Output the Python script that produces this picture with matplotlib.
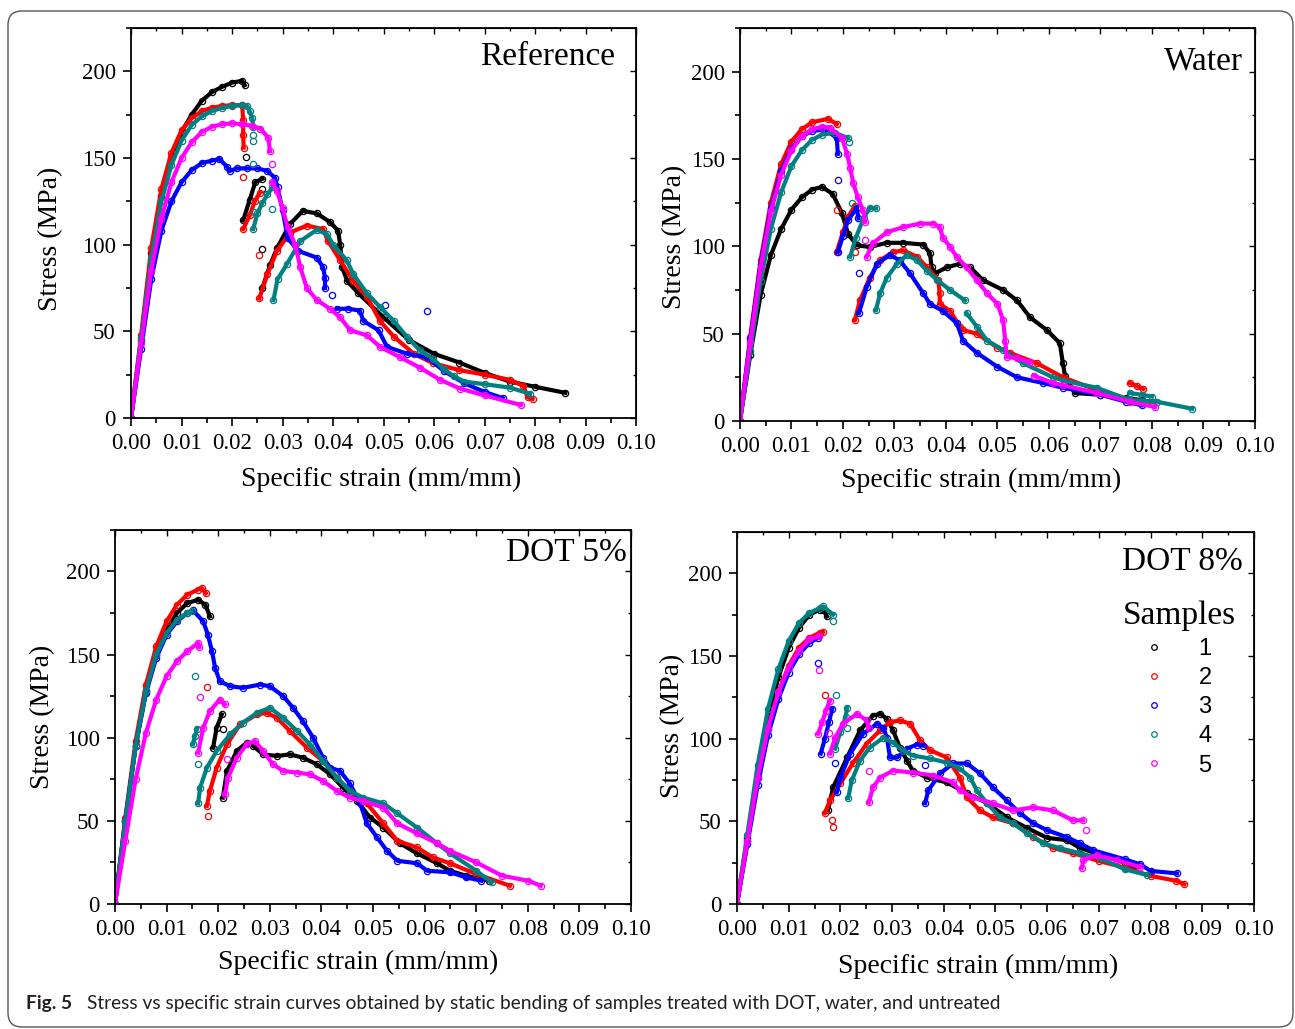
"""
Stress vs specific strain curves, static bending, four treatments.
"""
import matplotlib
matplotlib.use('Agg')
import matplotlib.pyplot as plt
from matplotlib.ticker import MultipleLocator, FormatStrFormatter
from matplotlib.patches import FancyBboxPatch
from matplotlib.lines import Line2D
from matplotlib.transforms import IdentityTransform

# each sample = list of (strain, stress) segments
ref_1 = [
    ([0, .002, .004, .006, .008, .010, .012, .014, .016, .018, .020, .022, .0225],
     [0, 45, 95, 128, 150, 165, 175, 183, 188, 191, 193.5, 194.5, 192]),
    ([.0228], [150.5]), ([.026], [132]), ([.026], [97.7]),
    ([.0222, .0235, .0246, .026], [114, 126, 136, 138]),
    ([.026, .0275, .0289, .0315, .034, .0368, .0394, .041, .0414, .0418, .0428, .045, .050,
      .055, .060, .065, .070, .075, .080, .086],
     [75, 88, 98, 112, 119.5, 118, 113, 108, 100, 87, 79, 72, 58, 45, 37, 32, 26, 21, 18, 14.5]),
]
ref_2 = [
    ([0, .002, .004, .006, .008, .010, .012, .014, .016, .018, .020, .022, .0222, .0222, .0223],
     [0, 48, 98, 132, 153, 166, 173, 177, 179, 180, 180.5, 180.5, 172, 163, 156]),
    ([.0222], [139]), ([.0254], [94]),
    ([.0222, .0235, .0245, .0255], [109, 117, 125, 130]),
    ([.0254, .027, .0289, .0315, .0348, .038, .039, .0414, .044, .0467, .0493, .052, .056,
      .0598, .065, .070, .075, .0777, .0785, .0795],
     [69, 83, 96.5, 107, 111, 109, 102, 91, 79, 70, 56, 47, 37, 31.6, 27.6, 25, 22, 18.5, 12, 11]),
]
ref_3 = [
    ([0, .002, .004, .006, .008, .010, .012, .014, .016, .0175, .019, .0195, .021, .023, .025,
      .027, .0285, .029, .030, .031, .033, .0368, .038, .0384, .0384],
     [0, 40, 80, 108, 125, 136, 143, 147, 148.5, 149.4, 145, 142.5, 144, 144, 144, 142.5, 138.5,
      133, 120, 104, 96.5, 92.5, 87, 81, 75]),
    ([.0398], [71]), ([.0503], [65]), ([.0586], [62]),
    ([.0408, .043, .0453, .046, .049, .0507, .0547, .0586, .062, .066, .070, .0736],
     [63, 63, 62, 56, 50.6, 41, 37, 35, 27, 20, 15, 11.5]),
]
ref_4 = [
    ([0, .002, .004, .006, .008, .010, .012, .014, .016, .018, .020, .022, .023, .0235, .024, .0242],
     [0, 46, 92, 125, 146, 160, 169, 174, 177, 179, 180, 180.5, 180, 177, 173, 168]),
    ([.0242], [163]), ([.0242], [160]), ([.0242], [146.6]), ([.0244], [119]), ([.028], [120.6]),
    ([.0242, .025, .026, .027, .028], [109, 118, 124, 129, 133]),
    ([.0282, .029, .0309, .0335, .0368, .0388, .040, .0427, .044, .0467, .0493, .052, .0547,
      .0572, .0598, .062, .064, .066, .070, .075, .079],
     [68, 80, 89, 102, 108.6, 106, 100, 91, 83, 72, 64, 56, 46.6, 39, 34, 28, 24, 21, 19.5, 17.5, 14]),
]
ref_5 = [
    ([0, .002, .004, .006, .008, .010, .012, .014, .016, .018, .020, .022, .024, .0256, .0272, .0275],
     [0, 43, 85, 115, 136, 150, 159, 165, 168, 169.5, 170, 169.5, 168.5, 167, 161.5, 154]),
    ([.0279], [146.6]),
    ([.0279, .0289, .030, .031, .0325, .0335, .0348, .0368, .0394, .0414, .0434, .0467, .0493,
      .0533, .0572, .0612, .0651, .070, .0772],
     [136, 131, 121, 110, 100, 87, 75, 68, 63, 58, 50.6, 47.7, 41, 35, 29, 22, 17, 13, 7.5]),
]

water_1 = [
    ([0, .002, .004, .006, .008, .010, .012, .014, .0159, .018, .0198, .021, .0227, .0252, .0285,
      .0317, .0356, .0369, .0372, .0379, .0402, .0427, .0447, .0472, .0511, .0538, .0563, .0596,
      .0621, .0627, .0631, .065, .070, .075, .078],
     [0, 38, 72, 95, 110, 121, 128, 132.5, 134, 130, 119, 107, 100.6, 99.6, 102, 102, 101, 96, 88,
      84.6, 88, 90, 88, 80.6, 75, 69, 59.4, 52, 44.6, 33, 26, 16, 15, 13, 12]),
]
water_2 = [
    ([0, .002, .004, .006, .008, .010, .012, .014, .0171, .0188],
     [0, 48, 92, 125, 147, 160, 167, 171, 173, 170]),
    ([.0188], [120.6]), ([.0223], [96.6]),
    ([.0188, .020, .021, .0223], [97, 108, 117, 123]),
    ([.0223, .0233, .0252, .0272, .0297, .0317, .0344, .0363, .0385, .0388, .0388, .0408, .0427,
      .0433, .046, .050, .0524, .0577, .0627, .0693, .0757, .080],
     [57.7, 69, 82, 92, 96.6, 97.7, 94, 88, 80.6, 73, 67, 63, 54, 52, 50, 42, 39, 33, 25, 17.7, 12, 11]),
    ([.0757, .077, .0783], [21.7, 20, 18.3]),
]
water_3 = [
    ([0, .002, .004, .006, .008, .010, .012, .014, .0165, .0188, .019],
     [0, 47, 90, 122, 143, 156, 163, 166, 167, 162, 153]),
    ([.019], [138]), ([.0231], [85]),
    ([.019, .020, .021, .0227, .023], [96.6, 106, 115, 122, 116]),
    ([.0231, .0246, .0266, .0291, .031, .033, .0356, .0369, .0394, .0421, .0433, .046, .050,
      .0538, .0589, .0627, .070, .075, .078],
     [61.7, 76.6, 90, 95, 92, 84.6, 73, 67, 63, 56, 46, 39, 31, 25, 21.7, 19, 15, 11, 9]),
]
water_4 = [
    ([0, .002, .004, .006, .008, .010, .012, .014, .016, .0184, .021],
     [0, 40, 80, 110, 131, 146, 155, 161, 164, 165, 162]),
    ([.0212], [160]), ([.0217], [124.6]),
    ([.0214, .0225, .024, .0252, .0264], [94, 105, 116, 122, 121.7]),
    ([.0264, .0272, .0285, .0305, .0324, .0344, .0363, .0383, .0408, .0437],
     [63.4, 73, 82, 90, 95, 92, 86, 80.6, 75, 69]),
    ([.044, .046, .048, .0511, .055, .0608, .063, .0693, .0757, .081, .0878],
     [61.7, 54, 46, 40.6, 33, 25, 23, 19, 12, 11, 7]),
    ([.0757, .078, .080], [16, 15, 14]),
]
water_5 = [
    ([0, .002, .004, .006, .008, .010, .012, .014, .016, .0175, .0198, .0208, .0214, .022, .0229,
      .0239, .0243],
     [0, 45, 88, 120, 141, 155, 163, 167, 168.5, 168, 162, 153, 145, 136, 128, 120.6, 114]),
    ([.0243], [103.4]),
    ([.0246, .0258, .0285, .0317, .035, .0375, .0388, .0394, .0408, .0421, .044, .046, .048, .050,
      .0511, .0515, .0518, .0538, .0563],
     [94, 101.7, 108, 111, 113, 113, 111, 105, 99.6, 94, 88, 80.6, 73, 67, 57.7, 46, 36.6, 36, 33.7]),
    ([.057, .0608, .0627, .0693, .0757, .0806], [26, 21.7, 20.5, 16, 11, 8]),
]

dot5_1 = [
    ([0, .002, .004, .006, .008, .010, .012, .014, .0161, .0175, .0184],
     [0, 50, 95, 128, 150, 165, 175, 181, 183, 180, 173]),
    ([.0209], [105]),
    ([.019, .0197, .0207], [94, 106, 114]),
    ([.0209, .0217, .0236, .0255, .0268, .0287, .0314, .0339, .0364, .0391, .0417, .0442, .0469,
      .0494, .052, .0552, .0585, .0624, .0649, .068, .0725],
     [64, 80, 92, 97, 95, 90, 89, 90, 88, 84, 78, 70, 62, 52, 46, 36.5, 30.5, 24.5, 20, 17, 14]),
]
dot5_2 = [
    ([0, .002, .004, .006, .008, .010, .012, .014, .016, .0168, .0176],
     [0, 52, 98, 132, 155, 170, 180, 186, 189, 190, 187]),
    ([.0178], [130.5]), ([.018], [52.7]),
    ([.0178, .0184, .0197, .0217, .0242, .0275, .0294, .0314, .0339, .0372, .0403, .043, .0455,
      .0488, .052, .0547, .0585, .0616, .0649, .070, .0765],
     [59, 68, 82, 96, 108, 114, 115, 112, 104, 94, 86, 76, 68, 60.5, 48.5, 38, 34, 28, 24.5, 18, 11]),
]
dot5_3 = [
    ([0, .002, .004, .006, .008, .010, .012, .014, .0151, .0171, .018, .0188, .0194, .0203, .0223,
      .0248, .0281, .030, .0326, .0345, .0364, .0384, .0403, .0417, .0436, .0455, .0475, .0488,
      .0508, .0527, .0547, .0585, .0605, .065, .068, .071],
     [0, 50, 95, 127, 148, 162, 170, 175, 176.6, 170, 162, 152, 142, 134, 131, 130, 132, 131, 125,
      118, 110, 100, 88, 82, 80, 72.5, 60.5, 48.5, 40, 32, 26, 24.5, 20, 19, 16, 14]),
]
dot5_4 = [
    ([0, .002, .004, .006, .008, .010, .012, .014, .0149],
     [0, 50, 95, 128, 150, 163, 171, 175, 176]),
    ([.0155], [137]), ([.0161], [84]),
    ([.0151, .0155, .0159], [96, 101, 105.5]),
    ([.0161, .0165, .0178, .0197, .0223, .0248, .0275, .030, .0326, .0353, .0378, .0403, .043,
      .0455, .0481, .052, .0547, .0585, .0624, .0649, .070, .073],
     [60.5, 70, 82, 92, 102, 109, 115, 118, 112, 104, 96, 86, 76, 68, 64, 60.5, 54.5, 46, 36.5,
      30.5, 20, 13]),
]
dot5_5 = [
    ([0, .002, .004, .006, .008, .010, .012, .014, .0161, .0163],
     [0, 38, 75, 103, 123, 137, 146, 152, 157, 154.5]),
    ([.0165], [124.6]), ([.0217], [87]),
    ([.0161, .0171, .0184, .0203, .0213], [91, 106, 116, 123, 120]),
    ([.0213, .0219, .0236, .0255, .0271, .0287, .0306, .0326, .0353, .0378, .0403, .043, .0455,
      .0481, .052, .0547, .0585, .0624, .0649, .070, .075, .080, .0825],
     [66, 76, 88, 96, 98, 92, 84, 80, 79, 78, 74, 68, 64, 62, 58, 48.5, 42.5, 36.5, 32, 25, 17, 14, 11]),
]

dot8_1 = [
    ([0, .002, .004, .006, .008, .010, .012, .014, .016, .0167, .0174],
     [0, 40, 80, 112, 137, 155, 167, 175, 178, 178, 174]),
    ([.0176, .0186, .0213, .0238, .0263, .0277, .029, .0302, .0315, .0329, .034, .0367, .0406,
      .0445, .0484, .0522, .0561, .060, .0638, .0663, .070, .075, .077],
     [56.6, 70.5, 88.6, 105, 114, 115, 112, 105, 94.6, 86.7, 80.7, 76.5, 73.5, 67, 61, 52.4, 46,
      40, 38.6, 34, 30, 25, 22]),
]
dot8_2 = [
    ([0, .002, .004, .006, .008, .010, .012, .014, .016, .0166],
     [0, 38, 76, 106, 128, 144, 155, 161, 164, 164.5]),
    ([.017], [126.5]), ([.0184], [51]), ([.0186], [46.4]),
    ([.017, .018, .020, .0224, .0251, .0277, .0296, .0315, .0335, .0354, .0373, .0406, .0431,
      .0445, .047, .0495, .0534, .0573, .0611, .065, .070, .075, .080, .085, .0865],
     [55, 62.6, 73, 85, 97, 105, 110, 111, 109, 99, 93, 88.6, 76.5, 64.5, 56.6, 52.4, 48.8, 40.4,
      34, 30.7, 26, 22, 17, 14, 12]),
]
dot8_3 = [
    ([0, .002, .004, .006, .008, .010, .012, .014, .0157],
     [0, 36, 72, 102, 124, 140, 151, 158, 161]),
    ([.0157], [146]), ([.019], [85]), ([.0364], [84]),
    ([.0162, .017, .0178, .0184], [91, 100, 110, 118]),
    ([.0193, .020, .0219, .0244, .0271, .0283, .029, .0296, .031, .0329, .0348, .036],
     [67.5, 76.5, 91, 103, 109, 106.6, 100.6, 88.6, 88.6, 94, 96.4, 95.8]),
    ([.0364, .037, .0393, .0418, .0445, .047, .0495, .0522, .0547, .0573, .060, .0638, .0663,
      .0689, .075, .078, .080, .0851],
     [61, 68.7, 79, 85, 85, 79, 70.5, 62.6, 55, 48.8, 44.6, 40.4, 36.7, 32.5, 27, 24, 20, 18.5]),
]
dot8_4 = [
    ([0, .002, .004, .006, .008, .010, .012, .014, .016, .0167, .0186],
     [0, 42, 84, 118, 142, 159, 170, 176, 179, 180, 175]),
    ([.0186], [171]), ([.0191], [126.5]), ([.0213], [106.6]),
    ([.019, .020, .021, .0213], [94, 104, 113, 118.7]),
    ([.0215, .0222, .0238, .0257, .0283, .0302, .0321, .034, .0373, .0406, .0431, .0451, .0464,
      .0484, .0509, .0534, .0561, .0592, .0625, .0663, .0702, .075, .0793],
     [64, 74.7, 86.7, 94.6, 100.6, 97.6, 92.8, 89.8, 88, 85.5, 82, 76.5, 68.7, 60.8, 52.4, 48.8,
      42.8, 36.7, 33.7, 30.7, 27.7, 21, 17.5]),
]
dot8_5 = [
    ([0, .002, .004, .006, .008, .010, .012, .014, .0159],
     [0, 38, 76, 106, 128, 143, 153, 160, 162]),
    ([.0159], [141.6]), ([.0178], [103.6]), ([.0255], [80.7]), ([.0675], [45]),
    ([.0157, .0165, .0172, .018], [103, 110, 117, 123]),
    ([.018, .019, .0205, .0232, .0251, .0255], [91, 100.6, 109, 115, 111, 106.6]),
    ([.0255, .0263, .0277, .0302, .034, .0379, .0418, .0431, .0456, .0495, .0534, .0573, .0611,
      .065, .0669],
     [61.4, 70.5, 76.5, 80.7, 79.5, 77.7, 73.5, 68.7, 64.5, 60.8, 56.6, 58.4, 56.6, 50.6, 50.6]),
    ([.0667, .067, .0696, .0735, .078], [21.7, 26.5, 29.5, 26.5, 22.3]),
]

sample_labels = ['1', '2', '3', '4', '5']
colors = ['#000000', '#FF0000', '#0000FF', '#008080', '#FF00FF']

SERIF = 'Liberation Serif'

# panel: samples, title, axes rect, title pos, ylabel coords, xlabel coords
panels = [
    ([ref_1, ref_2, ref_3, ref_4, ref_5], 'Reference',
     [0.1012, 0.5938, 0.390, 0.379], (0.958, 0.926), (-0.134, 0.46), (0.495, -0.126)),
    ([water_1, water_2, water_3, water_4, water_5], 'Water',
     [0.5714, 0.5909, 0.3977, 0.3819], (0.977, 0.916), (-0.103, 0.468), (0.468, -0.12)),
    ([dot5_1, dot5_2, dot5_3, dot5_4, dot5_5], 'DOT 5%',
     [0.0888, 0.1215, 0.3985, 0.3635], (0.992, 0.9385), (-0.116, 0.5), (0.471, -0.123)),
    ([dot8_1, dot8_2, dot8_3, dot8_4, dot8_5], 'DOT 8%',
     [0.5691, 0.1215, 0.3992, 0.3615], (0.979, 0.919), (-0.101, 0.48), (0.466, -0.134)),
]

fig = plt.figure(figsize=(12.95, 10.29), dpi=100)

for samples, title, rect, tpos, ylc, xlc in panels:
    ax = fig.add_axes(rect)
    for segs, c in zip(samples, colors):
        for xs, ys in segs:
            ax.plot(xs, ys, color=c, lw=3.0, marker='o', ms=4.5, mfc='none', mec=c, mew=0.9)

    ax.set_xlim(0, 0.10)
    ax.set_ylim(0, 225)
    ax.xaxis.set_major_locator(MultipleLocator(0.01))
    ax.xaxis.set_minor_locator(MultipleLocator(0.005))
    ax.xaxis.set_major_formatter(FormatStrFormatter('%.2f'))
    ax.yaxis.set_major_locator(MultipleLocator(50))
    ax.yaxis.set_minor_locator(MultipleLocator(25))
    ax.tick_params(which='both', direction='out', width=1.2, labelsize=16.5)
    ax.tick_params(which='major', length=6, pad=5)
    ax.tick_params(which='minor', length=3.5)
    for lab in ax.get_xticklabels() + ax.get_yticklabels():
        lab.set_fontfamily(SERIF)
    for sp in ax.spines.values():
        sp.set_linewidth(1.3)

    # inward ticks on top and right
    top = ax.secondary_xaxis('top')
    top.xaxis.set_major_locator(MultipleLocator(0.01))
    top.xaxis.set_minor_locator(MultipleLocator(0.005))
    top.tick_params(which='both', direction='in', labeltop=False, width=1.0)
    top.tick_params(which='major', length=4)
    top.tick_params(which='minor', length=2.5)
    right = ax.secondary_yaxis('right')
    right.yaxis.set_major_locator(MultipleLocator(50))
    right.yaxis.set_minor_locator(MultipleLocator(25))
    right.tick_params(which='both', direction='in', labelright=False, width=1.0)
    right.tick_params(which='major', length=4)
    right.tick_params(which='minor', length=2.5)

    ax.set_xlabel('Specific strain (mm/mm)', fontsize=20, fontfamily=SERIF)
    ax.set_ylabel('Stress (MPa)', fontsize=20, fontfamily=SERIF)
    ax.xaxis.set_label_coords(*xlc)
    ax.yaxis.set_label_coords(*ylc)
    ax.text(tpos[0], tpos[1], title, transform=ax.transAxes, ha='right', va='center',
            fontsize=24, fontfamily=SERIF)

# legend sits in the DOT 8% panel
handles = [Line2D([], [], ls='none', marker='o', ms=4, mfc='none', mec=c, mew=0.9)
           for c in colors]
leg = ax.legend(handles, sample_labels, title='Samples', loc='upper center',
                bbox_to_anchor=(0.855, 0.86), frameon=False, alignment='center',
                prop={'family': 'Liberation Sans', 'size': 17},
                handlelength=0.6, handletextpad=1.6, labelspacing=0.3, borderpad=0.2)
leg.get_title().set_fontfamily(SERIF)
leg.get_title().set_fontsize(24)

# caption
cy = 1 - 1004 / 1029
fig.text(26 / 1295, cy, 'Fig. 5', fontsize=13.8, fontweight='bold', fontfamily='Lato',
         va='center', color='#231f20')
fig.text(87 / 1295, cy, 'Stress vs specific strain curves obtained by static bending of samples '
         'treated with DOT, water, and untreated', fontsize=13.8, fontfamily='Lato',
         va='center', color='#231f20')

# rounded frame around the figure
frame = FancyBboxPatch((8, 2), 1285, 1016, boxstyle='round,pad=0,rounding_size=14',
                       transform=IdentityTransform(), fill=False, edgecolor='#555555', lw=1.0)
fig.add_artist(frame)

fig.savefig('out.png', dpi=100)
